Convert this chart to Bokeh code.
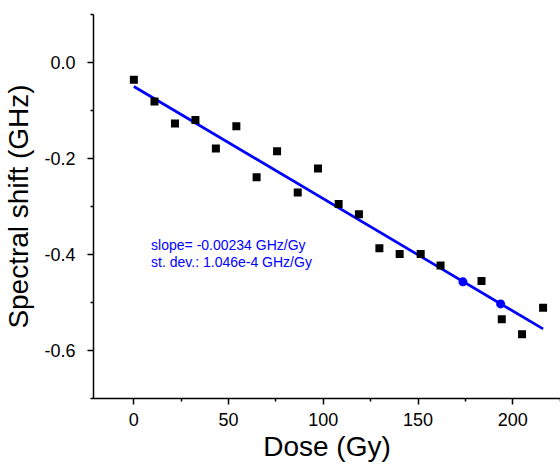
from bokeh.plotting import figure
from bokeh.models import FixedTicker, PrintfTickFormatter, Range1d
from bokeh.core.properties import value
from bokeh.embed import file_html
from bokeh.resources import INLINE

# ---- data ----
dose = [0, 10.9, 21.7, 32.5, 43.3, 54.1, 64.8, 75.6, 86.5, 97.2,
        108.1, 118.8, 129.6, 140.3, 151.4, 161.9, 183.5, 194.2, 204.9, 216.0]
shift = [-0.036, -0.081, -0.127, -0.120, -0.179, -0.133, -0.239, -0.185, -0.271, -0.221,
         -0.295, -0.316, -0.387, -0.399, -0.399, -0.423, -0.455, -0.535, -0.566, -0.511]

hl_dose = [173.7, 193.6]
hl_shift = [-0.457, -0.503]

fit_dose = [0, 216.0]
fit_shift = [-0.050, -0.555]

x_major = [0, 50, 100, 150, 200]
x_minor = [25, 75, 125, 175, 225]
y_major = [-0.6, -0.4, -0.2, 0.0]
y_minor = [-0.7, -0.5, -0.3, -0.1, 0.1]

ann_text = ["slope= -0.00234 GHz/Gy", "st. dev.: 1.046e-4 GHz/Gy"]
ann_x = [9.1, 9.1]
ann_y = [-0.381, -0.416]

FONT = "Liberation Sans"
BLUE = "#0000ff"

p = figure(width=560, height=464, output_backend="svg", toolbar_location=None,
           x_range=Range1d(-21.3, 225.2), y_range=Range1d(-0.7, 0.1),
           min_border_left=92, min_border_right=0, min_border_top=14, min_border_bottom=65)
p.outline_line_color = None
p.xgrid.visible = False
p.ygrid.visible = False
p.background_fill_color = "white"
p.border_fill_color = "white"

p.line(fit_dose, fit_shift, line_color=BLUE, line_width=2.7)
p.scatter(dose, shift, marker="square", size=8, fill_color="black", line_color="black", line_width=0)
p.scatter(hl_dose, hl_shift, marker="circle", size=9, fill_color=BLUE, line_color=BLUE, line_width=0)

p.text(x=ann_x, y=ann_y, text=ann_text, text_font=value(FONT), text_font_size="14px",
       text_color=BLUE, text_baseline="middle", text_align="left")

for ax in (p.xaxis[0], p.yaxis[0]):
    ax.axis_line_width = 1.5
    ax.axis_line_color = "black"
    ax.major_tick_line_width = 1.5
    ax.minor_tick_line_width = 1.5
    ax.major_tick_line_color = "black"
    ax.minor_tick_line_color = "black"
    ax.major_tick_out = 6
    ax.major_tick_in = 0
    ax.minor_tick_out = 3
    ax.minor_tick_in = 0
    ax.major_label_text_font = FONT
    ax.major_label_text_font_size = "18px"
    ax.major_label_text_color = "black"
    ax.axis_label_text_font = FONT
    ax.axis_label_text_font_size = "28px"
    ax.axis_label_text_font_style = "normal"
    ax.axis_label_text_color = "black"

p.xaxis[0].ticker = FixedTicker(ticks=x_major, minor_ticks=x_minor)
p.yaxis[0].ticker = FixedTicker(ticks=y_major, minor_ticks=y_minor)
p.xaxis[0].formatter = PrintfTickFormatter(format="%d")
p.yaxis[0].formatter = PrintfTickFormatter(format="%.1f")
p.xaxis[0].axis_label = "Dose (Gy)"
p.yaxis[0].axis_label = "Spectral shift (GHz)"
p.xaxis[0].major_label_standoff = 8
p.yaxis[0].major_label_standoff = 12
p.xaxis[0].axis_label_standoff = 2
p.yaxis[0].axis_label_standoff = 7

open("out.html", "w").write(file_html(p, INLINE))
